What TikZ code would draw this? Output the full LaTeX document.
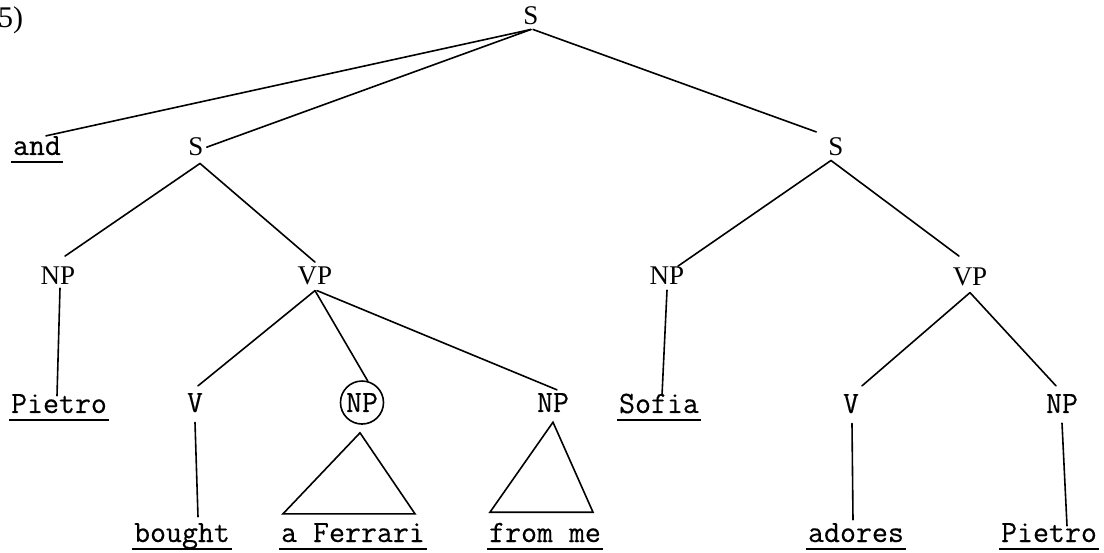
\documentclass[tikz,border=0pt]{standalone}
\usepackage{fontspec}
\newfontfamily\tw[FakeBold=0.35]{Latin Modern Mono}
\newfontfamily\srf{Liberation Serif}
\begin{document}
\begin{tikzpicture}[x=1pt,y=-1pt,
  tw/.style={inner sep=0pt,inner xsep=2pt,anchor=base,font=\tw\fontsize{31}{31}\selectfont},
  sr/.style={inner sep=0pt,anchor=base,font=\srf\fontsize{27}{27}\selectfont},
  edge/.style={line width=1.6pt,line cap=round},
  ul/.style={line width=1.4pt},
  tri/.style={line width=1.6pt,line join=miter}]
\fill[white] (0,0) rectangle (1104,553);
\useasboundingbox (0,0) rectangle (1104,553);
% labels
\node[inner sep=0pt,anchor=base west,font=\srf\fontsize{30}{30}\selectfont] (num) at (-2,28) {5)};
\node[sr] (S0) at (531,25) {S};
\node[tw] (and) at (37,155) {and};
\node[sr] (S1) at (196,156) {S};
\node[sr] (S2) at (836,156) {S};
\node[sr] (NP1) at (58,285) {NP};
\node[sr] (VP1) at (315,285) {VP};
\node[sr] (NP2) at (667,285) {NP};
\node[sr] (VP2) at (970,286) {VP};
\node[tw] (pietroA) at (59,413) {Pietro};
\node[tw] (V1) at (195,412) {V};
\node[tw,circle,draw,line width=1.6pt,minimum size=43pt,inner sep=0pt] (NPc) at (362,412) {NP};
\node[tw] (NP3) at (553,412) {NP};
\node[tw] (sofia) at (659,413) {Sofia};
\node[tw] (V2) at (851,413) {V};
\node[tw] (NP4) at (1062,413) {NP};
\node[tw] (bought) at (182,542) {bought};
\node[tw] (ferrari) at (353,542) {a Ferrari};
\node[tw] (fromme) at (545,542) {from me};
\node[tw] (adores) at (856,542) {adores};
\node[tw] (pietroB) at (1049,542) {Pietro};
% underlines
\foreach \n in {and,pietroA,sofia,bought,ferrari,fromme,adores,pietroB}
  \draw[ul] ([yshift=-7pt]\n.base west) -- ([yshift=-7pt]\n.base east);
% connectors
\draw[edge] ([yshift=-4pt]S0.south) -- ([xshift=9pt]and.north);
\draw[edge] ([yshift=-4pt]S0.south) -- ([xshift=3pt]S1.east);
\draw[edge] ([xshift=2pt,yshift=-4pt]S0.south) -- ([xshift=-12pt,yshift=6pt]S2.north west);
\draw[edge] ([xshift=4pt,yshift=-7pt]S1.south) -- ([xshift=7pt,yshift=11pt]NP1.north);
\draw[edge] ([xshift=4pt,yshift=-7pt]S1.south) -- ([yshift=5pt]VP1.north);
\draw[edge] ([xshift=2pt,yshift=-3pt]NP1.south) -- ([xshift=-2pt,yshift=-2pt]pietroA.north);
\draw[edge] ([yshift=-5pt]VP1.south) -- ([xshift=3pt,yshift=7pt]V1.north);
\draw[edge] ([yshift=-5pt]VP1.south) -- (NPc.75);
\draw[edge] ([xshift=2pt,yshift=-5pt]VP1.south) -- ([xshift=4pt,yshift=3pt]NP3.north);
\draw[edge] ([yshift=-10pt]V1.south) -- ([xshift=16pt,yshift=6pt]bought.north);
\draw[tri] ([xshift=-2pt,yshift=-8pt]NPc.south) -- ++(-77,81) -- ++(132,0) -- cycle;
\draw[tri] ([yshift=-10pt]NP3.south) -- ++(-63,90) -- ++(103,0) -- cycle;
\draw[edge] ([xshift=-5pt,yshift=-4pt]S2.south) -- ([xshift=11pt,yshift=1pt]NP2.north);
\draw[edge] ([xshift=-5pt,yshift=-4pt]S2.south) -- ([xshift=-11pt,yshift=12pt]VP2.north);
\draw[edge] ([yshift=-5pt]NP2.south) -- ([xshift=3pt,yshift=-2pt]sofia.north);
\draw[edge] ([yshift=-6pt]VP2.south) -- ([xshift=11pt,yshift=8pt]V2.north);
\draw[edge] ([yshift=-6pt]VP2.south) -- ([xshift=-6pt,yshift=8pt]NP4.north);
\draw[edge] ([xshift=1pt,yshift=-10pt]V2.south) -- ([xshift=-3pt,yshift=3pt]adores.north);
\draw[edge] ([yshift=-10pt]NP4.south) -- ([xshift=18pt,yshift=-3pt]pietroB.north);
\end{tikzpicture}
\end{document}
